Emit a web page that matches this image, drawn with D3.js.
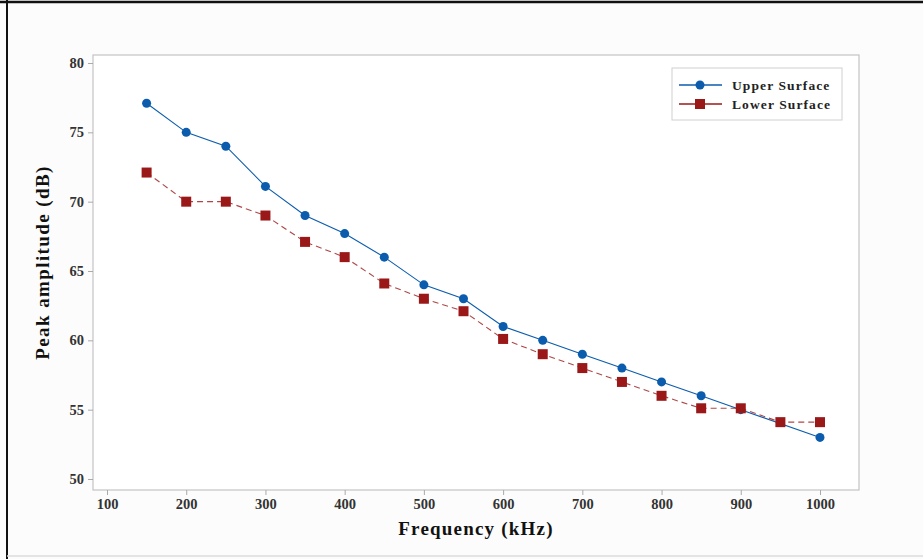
<!DOCTYPE html>
<html>
<head>
<meta charset="utf-8">
<script src="https://cdn.jsdelivr.net/npm/d3@7"></script>
<style>
  body { margin: 0; background: #fff; }
  text { font-family: "Liberation Serif", "Times New Roman", serif; font-weight: bold; }
</style>
</head>
<body>
<div id="chart"></div>
<script>
// data
var upperFreq = [150, 200, 250, 300, 350, 400, 450, 500, 550, 600, 650, 700, 750, 800, 850, 900, 1000];
var upperAmp  = [77.1, 75, 74, 71.1, 69, 67.7, 66, 64, 63, 61, 60, 59, 58, 57, 56, 55, 53];
var lowerFreq = [150, 200, 250, 300, 350, 400, 450, 500, 550, 600, 650, 700, 750, 800, 850, 900, 950, 1000];
var lowerAmp  = [72.1, 70, 70, 69, 67.1, 66, 64.1, 63, 62.1, 60.1, 59, 58, 57, 56, 55.1, 55.1, 54.1, 54.1];
var xTicks = [100, 200, 300, 400, 500, 600, 700, 800, 900, 1000];
var yTicks = [50, 55, 60, 65, 70, 75, 80];

var W = 923, H = 559;
var svg = d3.select("#chart").append("svg")
  .attr("width", W)
  .attr("height", H);

// page background and border bits
svg.append("rect").attr("width", W).attr("height", H).attr("fill", "#fcfcfc");
svg.append("line").attr("x1", 0).attr("x2", W).attr("y1", 2).attr("y2", 2)
  .attr("stroke", "#111").attr("stroke-width", 2.5);
svg.append("line").attr("x1", 7).attr("x2", 7).attr("y1", 0).attr("y2", H)
  .attr("stroke", "#111").attr("stroke-width", 2);
svg.append("line").attr("x1", 7).attr("x2", W).attr("y1", 556).attr("y2", 556)
  .attr("stroke", "#ddd").attr("stroke-width", 1.5);

// plot frame (don't call it "top", window.top is taken)
var pL = 93, pR = 859, pT = 55, pB = 490;

var x = d3.scaleLinear().domain([100, 1000]).range([107, 820]);
var y = d3.scaleLinear().domain([50, 80]).range([479, 63]);

svg.append("rect")
  .attr("x", pL).attr("y", pT)
  .attr("width", pR - pL).attr("height", pB - pT)
  .attr("fill", "#fff")
  .attr("stroke", "#c4c4c4").attr("stroke-width", 1.2);

// axes
var xAxis = svg.append("g")
  .attr("transform", "translate(0," + pB + ")")
  .call(d3.axisBottom(x).tickValues(xTicks).tickFormat(d3.format("d"))
    .tickSize(5).tickPadding(4).tickSizeOuter(0));
var yAxis = svg.append("g")
  .attr("transform", "translate(" + pL + ",0)")
  .call(d3.axisLeft(y).tickValues(yTicks).tickFormat(d3.format("d"))
    .tickSize(5).tickPadding(4).tickSizeOuter(0));

[xAxis, yAxis].forEach(function(a) {
  a.select(".domain").remove();
  a.selectAll(".tick line").attr("stroke", "#aaa");
  a.selectAll(".tick text")
    .attr("fill", "#333")
    .style("font-size", "14.5px")
    .style("font-family", "Liberation Serif")
    .style("font-weight", "bold");
});

// axis titles
svg.append("text")
  .attr("x", (pL + pR) / 2).attr("y", 535)
  .attr("text-anchor", "middle")
  .style("font-size", "19px")
  .style("letter-spacing", "1.2px")
  .attr("fill", "#111")
  .text("Frequency (kHz)");
svg.append("text")
  .attr("transform", "translate(49," + ((pT + pB) / 2 - 10) + ") rotate(-90)")
  .attr("text-anchor", "middle")
  .style("font-size", "19px")
  .style("letter-spacing", "1.4px")
  .attr("fill", "#111")
  .text("Peak amplitude (dB)");

var blue = "#0b5cad", red = "#9b1818";

var upper = upperFreq.map(function(f, i) { return [f, upperAmp[i]]; });
var lower = lowerFreq.map(function(f, i) { return [f, lowerAmp[i]]; });

var line = d3.line().x(function(d) { return x(d[0]); }).y(function(d) { return y(d[1]); });

svg.append("path").datum(upper)
  .attr("d", line).attr("fill", "none")
  .attr("stroke", blue).attr("stroke-width", 1.1);
svg.selectAll(".dot").data(upper).enter().append("circle")
  .attr("cx", function(d) { return x(d[0]); })
  .attr("cy", function(d) { return y(d[1]); })
  .attr("r", 4.5)
  .attr("fill", blue);

svg.append("path").datum(lower)
  .attr("d", line).attr("fill", "none")
  .attr("stroke", red).attr("stroke-width", 1.1)
  .attr("stroke-dasharray", "6,4").attr("opacity", 0.8);
svg.selectAll(".sq").data(lower).enter().append("rect")
  .attr("x", function(d) { return x(d[0]) - 5; })
  .attr("y", function(d) { return y(d[1]) - 5; })
  .attr("width", 10).attr("height", 10)
  .attr("fill", red);

// legend
var lg = svg.append("g");
lg.append("rect")
  .attr("x", 672).attr("y", 68).attr("width", 170).attr("height", 52)
  .attr("fill", "#fff").attr("stroke", "#d0d0d0");
var items = [
  { name: "Upper Surface", color: blue, shape: "circle" },
  { name: "Lower Surface", color: red, shape: "square" }
];
items.forEach(function(it, i) {
  var cy = 85 + i * 19;
  lg.append("line").attr("x1", 679).attr("x2", 722).attr("y1", cy).attr("y2", cy)
    .attr("stroke", it.color).attr("stroke-width", 1.5);
  if (it.shape === "circle") {
    lg.append("circle").attr("cx", 700).attr("cy", cy).attr("r", 4.5).attr("fill", it.color);
  } else {
    lg.append("rect").attr("x", 695).attr("y", cy - 5).attr("width", 10).attr("height", 10).attr("fill", it.color);
  }
  lg.append("text").attr("x", 732).attr("y", cy + 4.5)
    .style("font-size", "13.5px")
    .style("letter-spacing", "1.1px")
    .attr("fill", "#222")
    .text(it.name);
});
</script>
</body>
</html>
